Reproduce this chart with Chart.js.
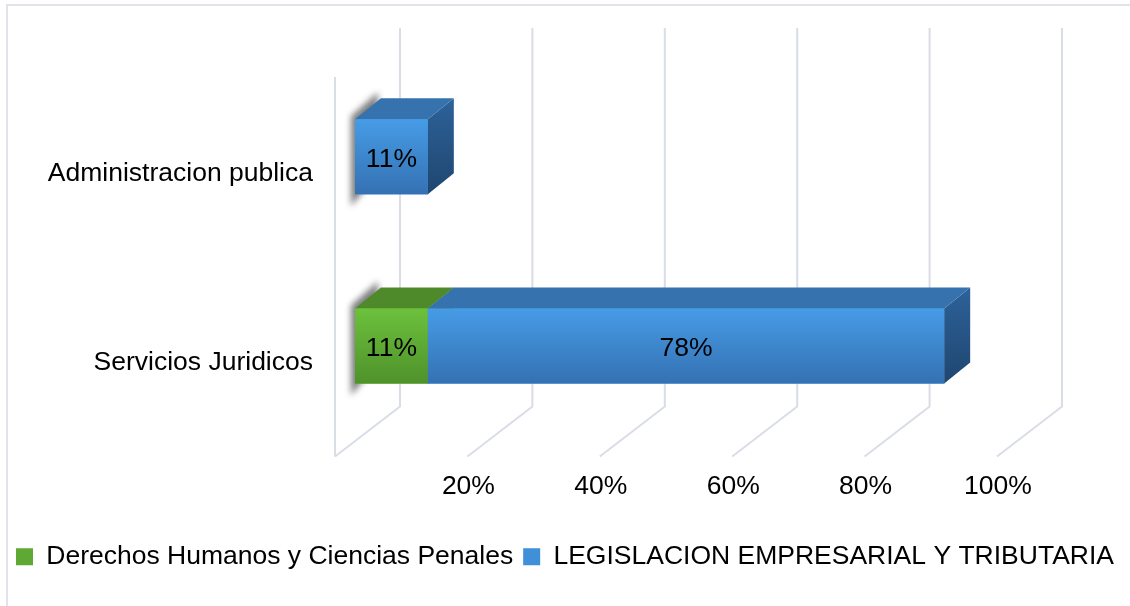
<!DOCTYPE html>
<html>
<head>
<meta charset="utf-8">
<script src="https://cdn.jsdelivr.net/npm/chart.js@4.4.0/dist/chart.umd.min.js"></script>
<style>
  html, body { margin: 0; padding: 0; background: #fff; }
  #wrap { width: 1130px; height: 606px; position: relative; }
</style>
</head>
<body>
<div id="wrap"><canvas id="graf"></canvas></div>
<script>
// Données du graphique
const categories = ["Administracion publica", "Servicios Juridicos"];
const derechosHumanos = [0, 11];
const legislacion = [11, 78];
const ticksX = [0, 20, 40, 60, 80, 100];
const nomsSeries = ["Derechos Humanos y Ciencias Penales", "LEGISLACION EMPRESARIAL Y TRIBUTARIA"];

// Couleurs des faces (avant haut, avant bas, dessus, côté haut, côté bas)
const couleurs = [
  { legende: '#5ea834', haut: '#6cc13c', bas: '#4f922b', dessus: '#4f8a2a', coteH: '#437a24', coteB: '#32601a' },
  { legende: '#3f8fd9', haut: '#469ce6', bas: '#3571b3', dessus: '#3572ae', coteH: '#2d6299', coteB: '#1f4670' }
];

const PROF_X = 26, PROF_Y = -21;
const TAILLE = 26.5;

Chart.defaults.font.family = "'Liberation Sans', Arial, sans-serif";
Chart.defaults.color = '#000';

const effet3d = {
  id: 'effet3d',
  beforeDraw(chart) {
    const ctx = chart.ctx;
    const xs = chart.scales.x, area = chart.chartArea;
    ctx.save();
    // cadre extérieur
    ctx.strokeStyle = '#e0e3e9';
    ctx.lineWidth = 2;
    ctx.strokeRect(7, 5, chart.width + 10, chart.height + 10);

    // murs : lignes du fond + sol
    const yAvant = area.bottom + 16;
    const yFond = yAvant - 50;
    const yHaut = area.top - 34;
    ctx.strokeStyle = '#d9dde6';
    ctx.lineWidth = 2;
    xs.ticks.forEach(t => {
      const px = xs.getPixelForValue(t.value);
      ctx.beginPath();
      ctx.moveTo(px + 45, yHaut);
      ctx.lineTo(px + 45, yFond);
      ctx.lineTo(px - 20, yAvant);
      ctx.stroke();
    });
    const pxG = xs.getPixelForValue(xs.min) - 20;
    ctx.beginPath();
    ctx.moveTo(pxG, yHaut + 49);
    ctx.lineTo(pxG, yAvant);
    ctx.stroke();
    ctx.restore();
  },
  beforeDatasetsDraw(chart) {
    // ombre à gauche des barres
    const ctx = chart.ctx;
    const meta = chart.getDatasetMeta(0);
    meta.data.forEach(el => {
      const { y, base, height } = el.getProps(['y', 'base', 'height'], true);
      const yT = y - height / 2, yB = y + height / 2;
      ctx.save();
      ctx.filter = 'blur(3px)';
      ctx.fillStyle = 'rgba(40,40,40,0.6)';
      ctx.beginPath();
      ctx.moveTo(base - 4, yT - 3);
      ctx.lineTo(base + PROF_X - 3, yT + PROF_Y - 6);
      ctx.lineTo(base + PROF_X - 3, yB + PROF_Y);
      ctx.lineTo(base - 4, yB + 12);
      ctx.closePath();
      ctx.fill();
      ctx.restore();
    });
  },
  afterDatasetsDraw(chart) {
    const ctx = chart.ctx;
    const nb = chart.data.datasets.length;
    categories.forEach((cat, i) => {
      for (let d = 0; d < nb; d++) {
        const val = chart.data.datasets[d].data[i];
        if (!val) continue;
        const el = chart.getDatasetMeta(d).data[i];
        const { x, y, base, height } = el.getProps(['x', 'y', 'base', 'height'], true);
        const yT = y - height / 2, yB = y + height / 2;
        const c = couleurs[d];
        ctx.save();
        // côté droit
        let g = ctx.createLinearGradient(0, yT + PROF_Y, 0, yB);
        g.addColorStop(0, c.coteH);
        g.addColorStop(1, c.coteB);
        ctx.fillStyle = g;
        ctx.beginPath();
        ctx.moveTo(x, yT);
        ctx.lineTo(x + PROF_X, yT + PROF_Y);
        ctx.lineTo(x + PROF_X, yB + PROF_Y);
        ctx.lineTo(x, yB);
        ctx.closePath();
        ctx.fill();
        // dessus
        ctx.fillStyle = c.dessus;
        ctx.beginPath();
        ctx.moveTo(base, yT);
        ctx.lineTo(base + PROF_X, yT + PROF_Y);
        ctx.lineTo(x + PROF_X, yT + PROF_Y);
        ctx.lineTo(x, yT);
        ctx.closePath();
        ctx.fill();
        // face avant
        g = ctx.createLinearGradient(0, yT, 0, yB);
        g.addColorStop(0, c.haut);
        g.addColorStop(1, c.bas);
        ctx.fillStyle = g;
        ctx.fillRect(base, yT, x - base, height);
        ctx.restore();
      }
      // étiquettes
      for (let d = 0; d < nb; d++) {
        const val = chart.data.datasets[d].data[i];
        if (!val) continue;
        const el = chart.getDatasetMeta(d).data[i];
        const { x, y, base } = el.getProps(['x', 'y', 'base'], true);
        ctx.save();
        ctx.font = TAILLE + "px 'Liberation Sans', Arial, sans-serif";
        ctx.fillStyle = '#000';
        ctx.textAlign = 'center';
        ctx.textBaseline = 'middle';
        ctx.fillText(val + '%', (x + base) / 2, y + 3);
        ctx.restore();
      }
    });
  }
};

new Chart(document.getElementById('graf'), {
  type: 'bar',
  data: {
    labels: categories,
    datasets: [
      { label: nomsSeries[0], data: derechosHumanos, backgroundColor: couleurs[0].legende, borderWidth: 0, barThickness: 75 },
      { label: nomsSeries[1], data: legislacion, backgroundColor: couleurs[1].legende, borderWidth: 0, barThickness: 75 }
    ]
  },
  options: {
    indexAxis: 'y',
    responsive: true,
    maintainAspectRatio: false,
    animation: false,
    layout: { padding: { top: 62, bottom: 26, left: 0, right: 0 } },
    plugins: {
      legend: {
        position: 'bottom',
        labels: { boxWidth: 17, boxHeight: 17, padding: 10, color: '#000', font: { size: TAILLE } }
      },
      tooltip: { enabled: false }
    },
    scales: {
      x: {
        stacked: true,
        min: ticksX[0],
        max: ticksX[ticksX.length - 1],
        grid: { display: false, drawTicks: false },
        border: { display: false },
        ticks: {
          stepSize: ticksX[1] - ticksX[0],
          labelOffset: -19,
          padding: 30,
          color: '#000',
          font: { size: TAILLE },
          callback: v => v === 0 ? '' : v + '%'
        },
        afterFit: s => { s.height = 93; }
      },
      y: {
        stacked: true,
        grid: { display: false, drawTicks: false },
        border: { display: false },
        ticks: { labelOffset: 17, padding: 42, color: '#000', font: { size: TAILLE } },
        afterFit: s => { s.width = 355; }
      },
      yDroite: {
        type: 'category',
        position: 'right',
        grid: { display: false, drawTicks: false },
        border: { display: false },
        ticks: { display: false },
        afterFit: s => { s.width = 113; }
      }
    }
  },
  plugins: [effet3d]
});
</script>
</body>
</html>
